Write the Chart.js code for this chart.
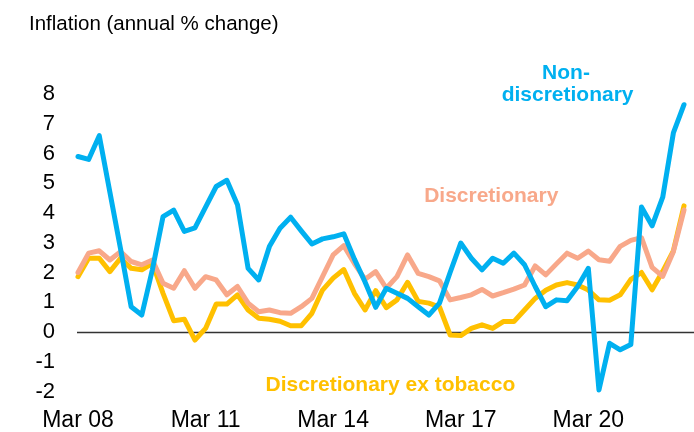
<!DOCTYPE html>
<html lang="en">
<head>
<meta charset="UTF-8">
<title>Inflation (annual % change)</title>
<script src="https://cdn.jsdelivr.net/npm/chart.js@4.4.1/dist/chart.umd.min.js"></script>
<style>
    body { margin: 0; background: #fff; }
    #grafica { display: block; }
</style>
</head>
<body>
<canvas id="grafica" width="694" height="432"></canvas>
<script>
// Trimestres, de Mar 08 a Jun 22
const trimestres = [
    'Mar 08', 'Jun 08', 'Sep 08', 'Dec 08',
    'Mar 09', 'Jun 09', 'Sep 09', 'Dec 09',
    'Mar 10', 'Jun 10', 'Sep 10', 'Dec 10',
    'Mar 11', 'Jun 11', 'Sep 11', 'Dec 11',
    'Mar 12', 'Jun 12', 'Sep 12', 'Dec 12',
    'Mar 13', 'Jun 13', 'Sep 13', 'Dec 13',
    'Mar 14', 'Jun 14', 'Sep 14', 'Dec 14',
    'Mar 15', 'Jun 15', 'Sep 15', 'Dec 15',
    'Mar 16', 'Jun 16', 'Sep 16', 'Dec 16',
    'Mar 17', 'Jun 17', 'Sep 17', 'Dec 17',
    'Mar 18', 'Jun 18', 'Sep 18', 'Dec 18',
    'Mar 19', 'Jun 19', 'Sep 19', 'Dec 19',
    'Mar 20', 'Jun 20', 'Sep 20', 'Dec 20',
    'Mar 21', 'Jun 21', 'Sep 21', 'Dec 21',
    'Mar 22', 'Jun 22'
];

// Etiquetas que se muestran en el eje X
const etiquetasEje = ['Mar 08', 'Mar 11', 'Mar 14', 'Mar 17', 'Mar 20'];

// Inflación anual (%) por grupo
const noDiscrecional = [
    5.9, 5.8, 6.6, 4.7, 2.8, 0.85, 0.57, 2.1, 3.88, 4.1, 3.38, 3.5,
    4.2, 4.89, 5.1, 4.28, 2.14, 1.75, 2.87, 3.49, 3.86, 3.4, 2.96, 3.13,
    3.2, 3.3, 2.45, 1.68, 0.83, 1.47, 1.3, 1.13, 0.85, 0.57, 0.97, 2.0,
    2.99, 2.48, 2.09, 2.48, 2.31, 2.65, 2.26, 1.53, 0.85, 1.08, 1.05, 1.53,
    2.14, -1.95, -0.38, -0.6, -0.42, 4.2, 3.57, 4.53, 6.69, 7.64
];
const discrecional = [
    2.0, 2.65, 2.73, 2.42, 2.7, 2.37, 2.26, 2.42, 1.64, 1.47, 2.06, 1.47,
    1.86, 1.75, 1.25, 1.53, 0.97, 0.68, 0.74, 0.65, 0.63, 0.85, 1.13, 1.86,
    2.59, 2.9, 2.3, 1.77, 2.03, 1.47, 1.86, 2.59, 1.97, 1.86, 1.72, 1.08,
    1.16, 1.25, 1.43, 1.21, 1.32, 1.44, 1.58, 2.22, 1.92, 2.29, 2.65, 2.48,
    2.72, 2.43, 2.38, 2.88, 3.08, 3.17, 2.17, 1.87, 2.7, 4.1
];
const discrecionalSinTabaco = [
    1.86, 2.48, 2.48, 2.03, 2.48, 2.14, 2.09, 2.31, 1.3, 0.38, 0.43, -0.27,
    0.12, 0.94, 0.94, 1.25, 0.74, 0.46, 0.43, 0.36, 0.21, 0.21, 0.63, 1.41,
    1.81, 2.1, 1.3, 0.74, 1.39, 0.82, 1.08, 1.67, 1.03, 0.97, 0.84, -0.1,
    -0.12, 0.12, 0.24, 0.12, 0.35, 0.35, 0.74, 1.13, 1.4, 1.58, 1.66, 1.58,
    1.41, 1.08, 1.07, 1.25, 1.77, 2.0, 1.42, 2.04, 2.73, 4.24
];

const AZUL = '#00B0F0';
const SALMON = '#F8A88A';
const AMARILLO = '#FFC000';
const FUENTE = "'Liberation Sans', Arial, sans-serif";

// Rótulos de cada serie (posición en índice de trimestre y valor del eje)
const rotulos = [
    { texto: 'Non-', color: AZUL, x: 45.9, y: 8.52 },
    { texto: 'discretionary', color: AZUL, x: 46.05, y: 7.75 },
    { texto: 'Discretionary', color: SALMON, x: 38.87, y: 4.37 },
    { texto: 'Discretionary ex tobacco', color: AMARILLO, x: 29.38, y: -1.97 }
];

// Línea horizontal en cero, hasta el borde derecho
const lineaCero = {
    id: 'lineaCero',
    beforeDatasetsDraw(chart) {
        const ctx = chart.ctx;
        const y = Math.round(chart.scales.y.getPixelForValue(0)) + 0.5;
        ctx.save();
        ctx.strokeStyle = '#333333';
        ctx.lineWidth = 1.3;
        ctx.beginPath();
        ctx.moveTo(chart.chartArea.left - 1, y);
        ctx.lineTo(chart.width, y);
        ctx.stroke();
        ctx.restore();
    }
};

// Título y rótulos de las series
const textos = {
    id: 'textos',
    afterDraw(chart) {
        const ctx = chart.ctx;
        const { x, y } = chart.scales;
        ctx.save();
        ctx.textBaseline = 'alphabetic';
        ctx.fillStyle = '#000';
        ctx.textAlign = 'left';
        ctx.font = `20.5px ${FUENTE}`;
        ctx.fillText('Inflation (annual % change)', 29, 29.5);

        ctx.textAlign = 'center';
        ctx.font = `bold 21px ${FUENTE}`;
        rotulos.forEach(r => {
            ctx.fillStyle = r.color;
            ctx.fillText(r.texto, x.getPixelForValue(r.x), y.getPixelForValue(r.y));
        });
        ctx.restore();
    }
};

function serie(label, data, color) {
    return {
        label: label,
        data: data,
        borderColor: color,
        backgroundColor: color,
        borderWidth: 5,
        pointRadius: 0,
        tension: 0,
        borderJoinStyle: 'round',
        borderCapStyle: 'round',
        clip: 10
    };
}

const ctx = document.getElementById('grafica').getContext('2d');
new Chart(ctx, {
    type: 'line',
    data: {
        labels: trimestres,
        datasets: [
            serie('Non-discretionary', noDiscrecional, AZUL),
            serie('Discretionary', discrecional, SALMON),
            serie('Discretionary ex tobacco', discrecionalSinTabaco, AMARILLO)
        ]
    },
    options: {
        responsive: false,
        animation: false,
        layout: { padding: { top: 94, right: 10, left: 0, bottom: 0 } },
        plugins: {
            legend: { display: false },
            tooltip: { enabled: false },
            title: { display: false }
        },
        scales: {
            x: {
                grid: { display: false, drawTicks: false },
                border: { display: false },
                ticks: {
                    autoSkip: false,
                    maxRotation: 0,
                    padding: 15,
                    color: '#000',
                    font: { family: FUENTE, size: 23 },
                    callback: function (valor) {
                        const etiqueta = this.getLabelForValue(valor);
                        return etiquetasEje.includes(etiqueta) ? etiqueta : '';
                    }
                },
                afterFit: escala => {
                    escala.height = 40.5;
                    // sin márgenes extra por las etiquetas de los extremos
                    escala.paddingLeft = 0;
                    escala.paddingRight = 0;
                }
            },
            y: {
                min: -2,
                max: 8,
                grid: { display: false, drawTicks: false },
                border: { display: false },
                ticks: {
                    stepSize: 1,
                    padding: 23,
                    color: '#000',
                    font: { family: FUENTE, size: 22 }
                },
                afterFit: escala => { escala.width = 78; }
            }
        }
    },
    plugins: [lineaCero, textos]
});
</script>
</body>
</html>
